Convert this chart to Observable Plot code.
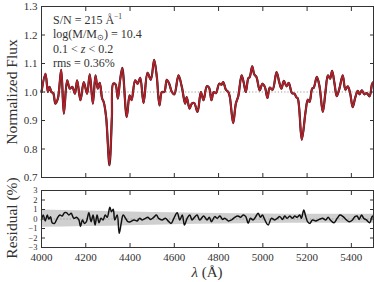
<!DOCTYPE html>
<html><head><meta charset="utf-8">
<script src="https://cdn.jsdelivr.net/npm/d3@7"></script>
<script src="https://cdn.jsdelivr.net/npm/@observablehq/plot@0.6"></script>
<style>
body{margin:0;background:#fff;}
#chart{position:relative;width:374px;height:282px;overflow:hidden;font-family:"Liberation Serif",serif;color:#333;}
#top,#bot{position:absolute;left:0;}
#top{top:0;} #bot{top:183px;}
.rot{position:absolute;white-space:nowrap;font-size:15.5px;transform:translate(-50%,-50%) rotate(-90deg);}
.ann{position:absolute;left:53px;font-size:12px;white-space:nowrap;line-height:12px;height:12px;}
.ann sup,.ann sub{font-size:7.5px;line-height:0;position:relative;vertical-align:baseline;font-family:"Liberation Serif",serif;}
.ann sup{top:-5px;} .ann sub{top:1.5px;}
#xlab{position:absolute;left:207px;top:272px;transform:translate(-50%,-50%);font-size:15px;white-space:nowrap;}
</style></head>
<body><div id="chart"><div id="top"></div><div id="bot"></div></div>
<script>
// ---- data ----
const specLambda = [4000,4018,4029,4036,4045,4053,4063,4074,4089,4101,4116,4128,4139,4151,4161,4176,4191,4206,4218,4232,4244,4254,4263,4274,4281,4292,4307,4318,4324,4334,4345,4354,4365,4385,4398,4407,4423,4434,4446,4461,4479,4494,4509,4521,4533,4544,4555,4566,4577,4589,4600,4619,4634,4649,4656,4669,4679,4690,4705,4720,4732,4747,4757,4768,4778,4788,4803,4813,4821,4833,4844,4851,4866,4878,4889,4904,4914,4923,4934,4941,4952,4961,4971,4986,4998,5009,5021,5031,5044,5062,5074,5084,5095,5107,5117,5132,5143,5151,5158,5176,5193,5203,5211,5223,5230,5244,5256,5271,5283,5294,5304,5313,5324,5334,5346,5361,5373,5384,5395,5406,5418,5429,5437,5447,5459,5470,5482,5494,5500];
const specFlux = [1.000,1.064,1.000,1.018,1.000,0.996,0.959,0.977,1.078,0.924,1.041,1.012,1.018,0.994,1.041,0.971,1.035,0.994,1.062,0.959,1.058,1.012,1.032,0.977,0.965,0.912,0.743,0.912,1.029,1.027,0.977,1.035,1.085,0.912,0.988,0.971,1.041,1.029,1.050,0.961,1.067,1.043,1.113,1.053,0.953,1.000,1.000,1.043,1.029,1.000,0.992,1.058,1.018,0.959,0.982,0.942,0.959,0.961,0.930,1.000,0.971,1.020,1.015,0.971,1.000,0.996,1.029,1.026,1.035,1.008,1.000,0.982,0.891,0.959,0.985,1.058,1.032,1.000,1.047,1.053,1.090,1.062,1.053,1.006,1.029,1.018,0.979,1.015,1.008,1.070,1.035,1.012,1.039,1.020,1.032,0.996,0.994,0.982,0.977,0.833,0.930,0.973,0.965,1.012,1.015,1.053,1.020,0.930,1.000,1.058,1.047,1.074,1.029,0.985,1.012,1.058,1.008,1.020,0.994,0.947,0.982,1.004,0.992,1.006,0.992,0.996,0.985,1.029,1.035];

const resLambda = [4000,4008,4017,4026,4033,4041,4048,4059,4071,4083,4093,4104,4113,4124,4134,4146,4158,4169,4176,4185,4194,4203,4214,4224,4233,4242,4251,4260,4269,4278,4288,4297,4309,4316,4324,4331,4342,4351,4360,4369,4380,4390,4402,4417,4432,4444,4455,4470,4480,4492,4507,4519,4529,4545,4560,4575,4586,4598,4613,4625,4636,4646,4658,4670,4680,4691,4703,4715,4733,4748,4758,4768,4783,4794,4806,4818,4828,4844,4859,4873,4888,4899,4911,4923,4934,4944,4956,4968,4979,4989,4998,5009,5024,5039,5054,5065,5077,5089,5099,5110,5122,5134,5144,5155,5167,5174,5185,5192,5202,5212,5224,5239,5255,5270,5284,5295,5305,5321,5336,5348,5363,5378,5390,5405,5416,5426,5435,5446,5456,5468,5483,5494,5500];
const resValue = [-0.1,0.42,-0.2,0.42,0,0.25,-0.39,-0.46,0.07,0.42,0.32,0.67,0.67,0.42,0.6,0.07,0.18,-0.1,-0.8,-0.1,-0.46,-0.28,0.67,-0.28,0.42,-0.63,0.42,-0.39,0.07,-0.1,0.42,0.18,1.23,0.77,1.02,-0.1,0.42,-1.5,-0.46,0.42,0.07,-0.28,-0.28,-0.1,-0.2,0.07,-0.1,0.07,0.18,-0.04,0.18,0.42,0.07,-0.1,0.07,-0.28,-0.46,0.07,0.67,-0.1,0.42,-0.63,0.07,0.42,-0.1,0.18,0.42,-0.1,0.32,-0.1,0.18,-0.28,0.25,0.07,0.32,-0.04,0.07,-0.2,-0.1,0.18,0.32,0.18,0.42,0.25,-0.46,0.07,-0.1,0.25,0.6,0.18,0.42,-0.1,-0.63,0.07,-0.1,0.07,0.25,-0.04,0.32,0.07,0.32,0.07,0.32,0.18,0.42,0.07,0.95,0.42,-0.28,-0.46,-0.1,-0.2,-0.04,0.07,-0.1,0.18,-0.1,-0.39,0.07,0.42,0.25,-0.1,-0.28,-0.1,0.25,0.32,-0.04,0.42,0.07,-0.1,-0.39,0.25,0.32];

const bandLambda = [4000,4200,4400,4600,4800,5000,5200,5400,5500];
const bandHigh = [0.95,0.85,0.75,0.65,0.57,0.52,0.5,0.5,0.5];
const bandLow = [-0.88,-0.8,-0.7,-0.6,-0.53,-0.48,-0.46,-0.46,-0.46];

const xTicks = [4000,4200,4400,4600,4800,5000,5200,5400];
const yTicksTop = [0.7,0.8,0.9,1.0,1.1,1.2,1.3];
const yTicksBot = [-3,-2,-1,0,1,2,3];
const annotations = ["S/N = 215 Å<sup>−1</sup>", "log(M/M<sub>⊙</sub>) = 10.4", "0.1 &lt; <i>z</i> &lt; 0.2", "rms = 0.36%"];
const yLabelTop = "Normalized Flux";
const yLabelBot = "Residual (%)";
const xLabel = "<i>λ</i> (Å)";

const frameColor = "#333";
const font = {fontFamily: "Liberation Serif, serif", fontSize: "11px", color: frameColor, background: "white", overflow: "visible"};

function axes(yTicks, yFmt, showX, yFontSize) {
  return [
    Plot.axisY(yTicks, {anchor: "left", tickSize: -4, tickPadding: 8, tickFormat: yFmt, stroke: frameColor, label: null, fontSize: yFontSize}),
    Plot.axisY(yTicks, {anchor: "right", tickSize: -4, text: null, stroke: frameColor, label: null}),
    Plot.axisX(xTicks, {anchor: "top", tickSize: -4, text: null, stroke: frameColor, label: null}),
    showX
      ? Plot.axisX(xTicks, {anchor: "bottom", tickSize: -4, tickPadding: 10, tickFormat: d => String(d), stroke: frameColor, label: null})
      : Plot.axisX(xTicks, {anchor: "bottom", tickSize: -4, text: null, stroke: frameColor, label: null})
  ];
}

const topPlot = Plot.plot({
  width: 374, height: 184,
  marginLeft: 41, marginRight: 1, marginTop: 6, marginBottom: 7,
  x: {domain: [4000, 5500]},
  y: {domain: [0.7, 1.3]},
  style: font,
  marks: [
    Plot.ruleY([1.0], {stroke: "#999", strokeDasharray: "1.2,2"}),
    Plot.line(specLambda, {x: specLambda, y: specFlux, stroke: "#111", strokeWidth: 2.2, curve: "catmull-rom"}),
    Plot.line(specLambda, {x: specLambda, y: specFlux, stroke: "#b3202a", strokeWidth: 1.8, curve: "catmull-rom"}),
    Plot.frame({stroke: frameColor}),
    ...axes(yTicksTop, d => d.toFixed(1), false, 11)
  ]
});
document.getElementById("top").appendChild(topPlot);

const botPlot = Plot.plot({
  width: 374, height: 99,
  marginLeft: 41, marginRight: 1, marginTop: 7, marginBottom: 35,
  x: {domain: [4000, 5500]},
  y: {domain: [-3, 3]},
  style: font,
  marks: [
    Plot.areaY(bandLambda, {x: bandLambda, y1: bandLow, y2: bandHigh, fill: "#cfcfcf", curve: "monotone-x"}),
    Plot.ruleY([0], {stroke: "#999", strokeDasharray: "1.2,2"}),
    Plot.line(resLambda, {x: resLambda, y: resValue, stroke: "#111", strokeWidth: 1.5, curve: "catmull-rom"}),
    Plot.frame({stroke: frameColor}),
    ...axes(yTicksBot, d => d < 0 ? "−" + Math.abs(d) : String(d), true, 8.5)
  ]
});
document.getElementById("bot").appendChild(botPlot);

const chart = document.getElementById("chart");
annotations.forEach((t, i) => {
  const d = document.createElement("div");
  d.className = "ann";
  d.style.top = (14 + i * 14.4) + "px";
  d.innerHTML = t;
  chart.appendChild(d);
});
function rot(text, x, y) {
  const d = document.createElement("div");
  d.className = "rot";
  d.style.left = x + "px"; d.style.top = y + "px";
  d.textContent = text;
  chart.appendChild(d);
}
rot(yLabelTop, 12, 92);
rot(yLabelBot, 12, 218);
const xl = document.createElement("div");
xl.id = "xlab"; xl.innerHTML = xLabel; chart.appendChild(xl);
</script></body></html>
